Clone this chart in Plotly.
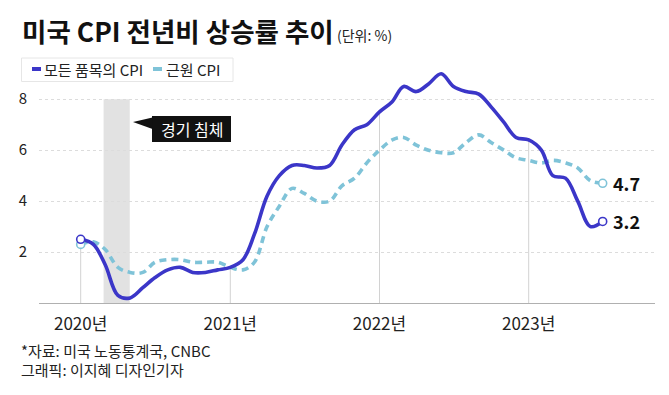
import plotly.graph_objects as go
import pandas as pd

# ---------------- data ----------------
months = pd.date_range("2020-01-01", "2023-07-01", freq="MS")

headline_cpi = [2.5, 2.3, 1.5, 0.3, 0.2, 0.6, 1.0, 1.3, 1.4, 1.2, 1.2, 1.3,
                1.4, 1.7, 2.7, 4.2, 5.0, 5.4, 5.4, 5.3, 5.4, 6.2, 6.8, 7.0,
                7.5, 7.9, 8.5, 8.3, 8.6, 9.0, 8.5, 8.3, 8.2, 7.7, 7.1, 6.5,
                6.4, 6.0, 5.0, 4.9, 4.0, 3.0, 3.2]
core_cpi = [2.3, 2.4, 2.1, 1.4, 1.2, 1.2, 1.6, 1.7, 1.7, 1.6, 1.6, 1.6,
            1.4, 1.3, 1.6, 3.0, 3.8, 4.5, 4.3, 4.0, 4.0, 4.6, 4.9, 5.5,
            6.0, 6.4, 6.5, 6.2, 6.0, 5.9, 5.9, 6.3, 6.6, 6.3, 6.0, 5.7,
            5.6, 5.5, 5.6, 5.5, 5.3, 4.8, 4.7]

series_names = ["모든 품목의 CPI", "근원 CPI"]
year_ticks = ["2020-01-01", "2021-01-01", "2022-01-01", "2023-01-01"]
year_labels = ["2020년", "2021년", "2022년", "2023년"]
y_ticks = [2, 4, 6, 8]
recession = ["2020-02-26", "2020-04-30"]
recession_label = "경기 침체"

title_text = "미국 CPI 전년비 상승률 추이"
unit_text = "(단위: %)"
source_text = "*자료: 미국 노동통계국, CNBC"
credit_text = "그래픽: 이지혜 디자인기자"

# ---------------- style ----------------
FONT = "Noto Sans CJK KR"
C_HEAD = "#3b36c8"
C_CORE = "#7fc3d8"
OFF = 8                      # page body margin
W, H = 669 - OFF, 395 - OFF  # figure size so that it fits in the window
# plot area in page pixels
PL, PR, PT, PB = 39, 655, 61, 303
L, R, T, B = PL - OFF, W - (PR - OFF), PT - OFF, H - (PB - OFF)
PW, PH = PR - PL, PB - PT


def px(xp):
    return (xp - PL) / PW


def py(yp):
    return (PB - yp) / PH


fig = go.Figure()

fig.add_trace(go.Scatter(x=months, y=core_cpi, name=series_names[1], mode="lines",
                         line=dict(color=C_CORE, width=3.6, dash="7px,5px", shape="spline", smoothing=1.0),
                         showlegend=False, hoverinfo="skip"))
fig.add_trace(go.Scatter(x=months, y=headline_cpi, name=series_names[0], mode="lines",
                         line=dict(color=C_HEAD, width=3.6, shape="spline", smoothing=1.0),
                         showlegend=False, hoverinfo="skip"))

# start / end markers
for vals, col in ((core_cpi, C_CORE), (headline_cpi, C_HEAD)):
    fig.add_trace(go.Scatter(x=[months[0], months[-1]], y=[vals[0], vals[-1]], mode="markers",
                             marker=dict(symbol="circle", size=8, color="white",
                                         line=dict(color=col, width=1.6)),
                             showlegend=False, hoverinfo="skip"))

shapes = []
# recession band
shapes.append(dict(type="rect", xref="x", yref="y", x0=recession[0], x1=recession[1], y0=0, y1=8,
                   fillcolor="#e2e2e2", line=dict(width=0), layer="below"))
# drop lines at year starts
month_keys = list(months.strftime("%Y-%m-%d"))
for t in year_ticks:
    idx = month_keys.index(t)
    shapes.append(dict(type="line", xref="x", yref="y", x0=t, x1=t, y0=0, y1=headline_cpi[idx],
                       line=dict(color="#d2d2d2", width=1), layer="below"))
# callout box
bx0, bx1, by0, by1 = 152, 231, 116, 142
shapes.append(dict(type="rect", xref="paper", yref="paper", x0=px(bx0), x1=px(bx1), y0=py(by1), y1=py(by0),
                   fillcolor="#111111", line=dict(width=0)))
shapes.append(dict(type="path", xref="paper", yref="paper",
                   path=f"M {px(133)},{py(122)} L {px(152.5)},{py(117.5)} L {px(152.5)},{py(129)} Z",
                   fillcolor="#111111", line=dict(width=0)))
# legend box
shapes.append(dict(type="rect", xref="paper", yref="paper", x0=px(21.5), x1=px(233), y0=py(81.5), y1=py(58),
                   fillcolor="white", line=dict(color="#e6e6e6", width=1)))
shapes.append(dict(type="line", xref="paper", yref="paper", x0=px(32), x1=px(41), y0=py(69), y1=py(69),
                   line=dict(color=C_HEAD, width=4)))
shapes.append(dict(type="line", xref="paper", yref="paper", x0=px(153), x1=px(162), y0=py(69), y1=py(69),
                   line=dict(color=C_CORE, width=4)))

ann = []
ann.append(dict(text=f"<b>{title_text}</b>", xref="paper", yref="paper", x=px(20), y=py(31),
                xanchor="left", yanchor="middle", showarrow=False,
                font=dict(family=FONT, size=26.5, color="#111111")))
ann.append(dict(text=unit_text, xref="paper", yref="paper", x=px(335), y=py(35),
                xanchor="left", yanchor="middle", showarrow=False,
                font=dict(family=FONT, size=14, color="#222222")))
ann.append(dict(text=series_names[0], xref="paper", yref="paper", x=px(42), y=py(69),
                xanchor="left", yanchor="middle", showarrow=False,
                font=dict(family=FONT, size=15, color="#222222")))
ann.append(dict(text=series_names[1], xref="paper", yref="paper", x=px(164), y=py(69),
                xanchor="left", yanchor="middle", showarrow=False,
                font=dict(family=FONT, size=15, color="#222222")))
ann.append(dict(text=recession_label, xref="paper", yref="paper", x=px((bx0 + bx1) / 2), y=py((by0 + by1) / 2),
                xanchor="center", yanchor="middle", showarrow=False,
                font=dict(family=FONT, size=16, color="white")))
for vals in (core_cpi, headline_cpi):
    ann.append(dict(text=f"<b>{vals[-1]}</b>", x=months[-1], y=vals[-1], xref="x", yref="y",
                    xanchor="left", yanchor="middle", xshift=8, showarrow=False,
                    font=dict(family=FONT, size=18, color="#111111")))
ann.append(dict(text=source_text, xref="paper", yref="paper", x=px(19), y=py(350),
                xanchor="left", yanchor="middle", showarrow=False,
                font=dict(family=FONT, size=15, color="#222222")))
ann.append(dict(text=credit_text, xref="paper", yref="paper", x=px(19), y=py(369),
                xanchor="left", yanchor="middle", showarrow=False,
                font=dict(family=FONT, size=15, color="#222222")))

fig.update_layout(
    width=W, height=H,
    margin=dict(l=L, r=R, t=T, b=B, pad=0, autoexpand=False),
    paper_bgcolor="white", plot_bgcolor="white",
    font=dict(family=FONT, color="#222222"),
    shapes=shapes, annotations=ann,
    xaxis=dict(type="date", range=["2019-09-21", "2023-11-06"], tickvals=year_ticks, ticktext=year_labels,
               showgrid=False, zeroline=False, showline=True, linecolor="#b0b0b0", linewidth=1,
               ticks="", ticklabelstandoff=6, automargin=False,
               tickfont=dict(family=FONT, size=17, color="#222222")),
    yaxis=dict(range=[0, 9.5], tickvals=y_ticks, showgrid=True, gridcolor="#dcdcdc", griddash="dot",
               gridwidth=1, zeroline=False, showline=False, ticks="", ticklabelstandoff=11, automargin=False,
               tickfont=dict(family=FONT, size=15, color="#222222")),
)

fig.write_html("out.html")
